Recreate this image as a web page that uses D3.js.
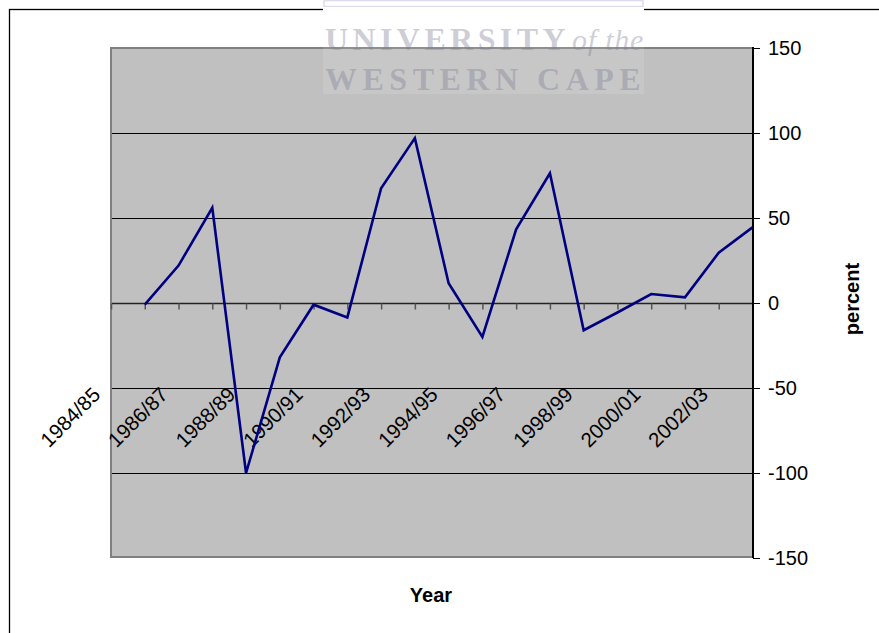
<!DOCTYPE html>
<html>
<head>
<meta charset="utf-8">
<script src="https://cdn.jsdelivr.net/npm/d3@7"></script>
<style>
  html, body { margin: 0; padding: 0; background: #fff; }
  svg { display: block; }
</style>
</head>
<body>
<svg id="chart" width="879" height="633"></svg>
<script>
// Financial years on the category axis
const years = [
  "1984/85", "1985/86", "1986/87", "1987/88", "1988/89", "1989/90", "1990/91",
  "1991/92", "1992/93", "1993/94", "1994/95", "1995/96", "1996/97", "1997/98",
  "1998/99", "1999/00", "2000/01", "2001/02", "2002/03", "2003/04"
];
// Annual change, percent (no value for the first year)
const changePct = [
  null, -1, 22, 56, -100, -32, -1, -8.5, 67.5, 97,
  11.6, -20, 43.3, 76.3, -16, -5.6, 5.3, 3.3, 29.6, 44.5
];
// Every second year is labelled
const yearLabels = [
  "1984/85", "1986/87", "1988/89", "1990/91", "1992/93",
  "1994/95", "1996/97", "1998/99", "2000/01", "2002/03"
];
const percentTicks = [150, 100, 50, 0, -50, -100, -150];
const gridValues = [100, 50, -50, -100];

const sansFont = "Arial, 'Liberation Sans', sans-serif";
const serifFont = "'Liberation Serif', 'DejaVu Serif', serif";

const svg = d3.select("#chart");

const plot = { left: 110, top: 47, right: 753, bottom: 558 };

const x = d3.scalePoint().domain(years).range([111, 752.5]);
const y = d3.scaleLinear().domain([-150, 150]).range([558, 48]);

// Outer chart frame
svg.append("rect")
  .attr("x", 9.5).attr("y", 9.5)
  .attr("width", 900).attr("height", 700)
  .attr("fill", "#fff").attr("stroke", "#000").attr("stroke-width", 1.3);

// Plot area
svg.append("rect")
  .attr("x", plot.left).attr("y", plot.top)
  .attr("width", plot.right - plot.left).attr("height", plot.bottom - plot.top)
  .attr("fill", "#c0c0c0");

// Plot area border (left, top, bottom)
svg.append("path")
  .attr("d", `M${plot.right},${plot.top + 1} H${plot.left + 1} V${plot.bottom - 1} H${plot.right}`)
  .attr("fill", "none").attr("stroke", "#808080").attr("stroke-width", 2);

// Horizontal gridlines
svg.append("g").selectAll("line")
  .data(gridValues).join("line")
  .attr("x1", plot.left + 2).attr("x2", plot.right)
  .attr("y1", d => Math.round(y(d)) + 0.5).attr("y2", d => Math.round(y(d)) + 0.5)
  .attr("stroke", "#000").attr("stroke-width", 1);

// Category axis along zero
const xAxis = d3.axisBottom(x).tickSize(6).tickFormat("");
const xg = svg.append("g")
  .attr("transform", `translate(0,${Math.round(y(0)) + 0.5})`)
  .call(xAxis);
xg.select(".domain")
  .attr("d", `M${plot.left + 2},0 H${plot.right}`)
  .attr("stroke", "#222").attr("stroke-width", 1.5);
xg.selectAll(".tick line").attr("stroke", "#555").attr("stroke-width", 1.5);

// Rotated year labels
svg.append("g").selectAll("text")
  .data(yearLabels).join("text")
  .attr("transform", d => `translate(${x(d) - 9.5},396) rotate(-45)`)
  .attr("text-anchor", "end")
  .style("font-family", sansFont)
  .style("font-size", "20.5px")
  .attr("fill", "#000")
  .text(d => d);

// Value axis on the right
const yAxis = d3.axisRight(y).tickValues(percentTicks).tickSize(7).tickPadding(8)
  .tickFormat(d => String(d));
const yg = svg.append("g")
  .attr("transform", `translate(${plot.right},0)`)
  .call(yAxis);
yg.select(".domain")
  .attr("d", `M0,${plot.top} V${plot.bottom}`)
  .attr("stroke", "#000").attr("stroke-width", 2);
yg.selectAll(".tick line").attr("stroke", "#000").attr("stroke-width", 1);
yg.selectAll(".tick text")
  .style("font-family", sansFont)
  .style("font-size", "20px")
  .attr("fill", "#000");

// Series line
const line = d3.line()
  .defined(d => d.v !== null)
  .x(d => x(d.year))
  .y(d => y(d.v));
svg.append("path")
  .datum(years.map((yr, i) => ({ year: yr, v: changePct[i] })))
  .attr("d", line)
  .attr("fill", "none")
  .attr("stroke", "#000080")
  .attr("stroke-width", 2.6)
  .attr("stroke-linejoin", "miter");

// Axis titles
svg.append("text")
  .attr("x", 431).attr("y", 601.5)
  .attr("text-anchor", "middle")
  .style("font-family", sansFont).style("font-size", "20px").style("font-weight", "bold")
  .text("Year");
svg.append("text")
  .attr("transform", "translate(859,299) rotate(-90)")
  .attr("text-anchor", "middle")
  .style("font-family", sansFont).style("font-size", "20px").style("font-weight", "bold")
  .text("percent");

// Institutional stamp across the top
const stamp = svg.append("g");
stamp.append("rect")
  .attr("x", 323).attr("y", 0).attr("width", 321).attr("height", 94)
  .attr("fill", "#fff").attr("opacity", 0.12);
stamp.append("rect")
  .attr("x", 324).attr("y", 0.5).attr("width", 319).attr("height", 6)
  .attr("fill", "#fff").attr("stroke", "#dcdcec").attr("stroke-width", 1.5);
stamp.append("rect")
  .attr("x", 323).attr("y", 7).attr("width", 321).attr("height", 40)
  .attr("fill", "#fff");
const line1 = stamp.append("text")
  .attr("x", 325).attr("y", 50)
  .style("font-family", serifFont).style("font-size", "32px").style("font-weight", "bold")
  .attr("fill", "#7e7e96").attr("fill-opacity", 0.38);
line1.append("tspan").style("letter-spacing", "4.4px").text("UNIVERSITY");
line1.append("tspan")
  .style("font-style", "italic").style("font-weight", "normal")
  .style("font-size", "30px").style("letter-spacing", "0.8px")
  .attr("dx", 2).text("of the");
stamp.append("text")
  .attr("x", 325).attr("y", 90)
  .style("font-family", serifFont).style("font-size", "32px").style("font-weight", "bold")
  .style("letter-spacing", "5.5px")
  .attr("fill", "#7e7e96").attr("fill-opacity", 0.38)
  .text("WESTERN CAPE");
</script>
</body>
</html>
